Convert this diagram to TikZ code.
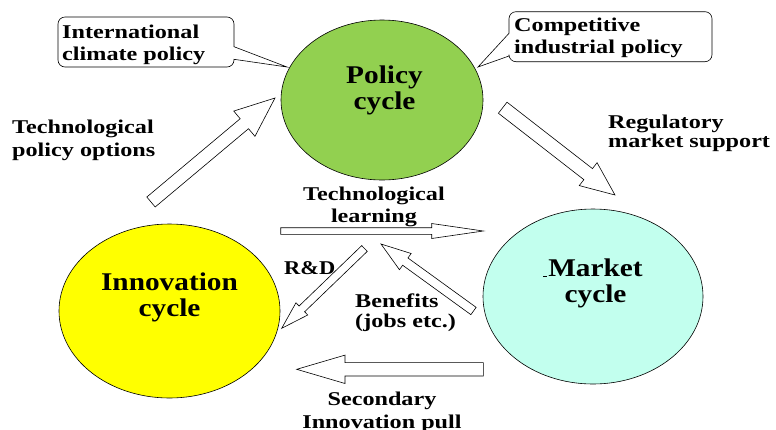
\documentclass[tikz,border=0pt]{standalone}
\usepackage{fontspec}
\setmainfont{Liberation Serif}
\newfontfamily\smallf[FakeStretch=1.24]{Liberation Serif}
\newfontfamily\bigf[FakeStretch=1.15]{Liberation Serif}
\usetikzlibrary{shapes.geometric,calc}
\definecolor{policygreen}{RGB}{146,208,80}
\definecolor{marketcyan}{RGB}{194,255,238}
\definecolor{innoyellow}{RGB}{255,255,0}
\newcommand\blockarrow[5]{%
  \coordinate (bh) at ($(#2)!#5!(#1)$);
  \draw[blk] ($(#1)!#3!90:(#2)$) -- ($(bh)!#3!90:(#2)$) -- ($(bh)!#4!90:(#2)$) -- (#2)
    -- ($(bh)!#4!-90:(#2)$) -- ($(bh)!#3!-90:(#2)$) -- ($(#1)!#3!-90:(#2)$) -- cycle;}
\tikzset{
  lbl/.style={font=\smallf\bfseries\fontsize{19.5}{22}\selectfont, inner sep=0pt, align=left},
  clbl/.style={lbl, align=center},
  big/.style={font=\bigf\bfseries\fontsize{25.5}{26}\selectfont, inner sep=0pt, align=center},
  cyc/.style={ellipse, draw, line width=0.6pt, inner sep=0pt},
  blk/.style={draw, fill=white, line width=0.6pt, line join=miter},
  callout/.style={draw, fill=white, line width=0.6pt}
}
\begin{document}
\begin{tikzpicture}[x=1pt,y=-1pt]
\useasboundingbox (0,0) rectangle (776,429);
% cycles
\node[cyc, fill=policygreen, minimum width=202pt, minimum height=160pt] (policy) at (382,100) {};
\node[cyc, fill=innoyellow, minimum width=221pt, minimum height=174pt] (inno) at (169.5,311) {};
\node[cyc, fill=marketcyan, minimum width=220pt, minimum height=175pt] (market) at (593,296.5) {};
\node[big, anchor=base] (policyt) at (384.5,109) {Policy\\cycle};
\node[big, anchor=base] (innot) at (169.5,316) {Innovation\\cycle};
\node[big, anchor=base] (markett) at (595.5,302) {Market\\cycle};
\draw[line width=0.5pt] (543,276.5) -- (546.5,276.5);
% callouts
\draw[callout] (146,17) [rounded corners=7pt] -- (234,17) [sharp corners] -- (234,46.7) -- (287,67) -- (234,59.3) [rounded corners=7pt] -- (234,67) -- (58,67) -- (58,17) -- cycle;
\node[lbl, anchor=base west] (intl) at (62,60) {International\\climate policy};
\draw[callout] (610,11.7) [rounded corners=7pt] -- (712,11.7) -- (712,61.7) -- (509,61.7) [sharp corners] -- (509,56) -- (478,67) -- (509,33.3) [rounded corners=7pt] -- (509,11.7) -- cycle;
\node[lbl, anchor=base west] (comp) at (514,53) {Competitive\\industrial policy};
% labels
\node[lbl, anchor=base west, font=\smallf\bfseries\fontsize{19.5}{23}\selectfont] (tpo) at (12,156) {Technological\\policy options};
\node[lbl, anchor=base west, font=\smallf\bfseries\fontsize{19.5}{19}\selectfont] (rms) at (608,147) {Regulatory\\market support};
\node[clbl, anchor=base] (tl) at (374,222.7) {Technological\\learning};
\node[lbl, anchor=base west, font=\bigf\bfseries\fontsize{19.5}{22}\selectfont] (rd) at (284,274) {R\&D};
\node[lbl, anchor=base west, font=\smallf\bfseries\fontsize{19.5}{20}\selectfont] (ben) at (355,327) {Benefits\\(jobs etc.)};
\node[clbl, anchor=base, font=\smallf\bfseries\fontsize{19.5}{23}\selectfont] (sec) at (382,428) {Secondary\\Innovation pull};
% arrow end points
\coordinate (a1t) at (151,202);   \coordinate (a1h) at (275,98);
\coordinate (a2t) at (502.7,107.7); \coordinate (a2h) at (615,195);
\coordinate (a3t) at (280.7,231); \coordinate (a3h) at (483.3,231);
\coordinate (a4t) at (364.5,248.5); \coordinate (a4h) at (281.7,328.3);
\coordinate (a5t) at (473.5,311); \coordinate (a5h) at (381,244);
\coordinate (a6t) at (483.3,369.3); \coordinate (a6h) at (296.7,369.3);
\blockarrow{a1t}{a1h}{6.5pt}{16.5pt}{40pt}
\blockarrow{a2t}{a2h}{7pt}{14.5pt}{34pt}
\blockarrow{a3t}{a3h}{3.3pt}{7.5pt}{51.6pt}
\blockarrow{a4t}{a4h}{4pt}{8.5pt}{28pt}
\blockarrow{a5t}{a5h}{4.5pt}{10pt}{30pt}
\blockarrow{a6t}{a6h}{6.7pt}{14.2pt}{48.3pt}
\end{tikzpicture}
\end{document}
